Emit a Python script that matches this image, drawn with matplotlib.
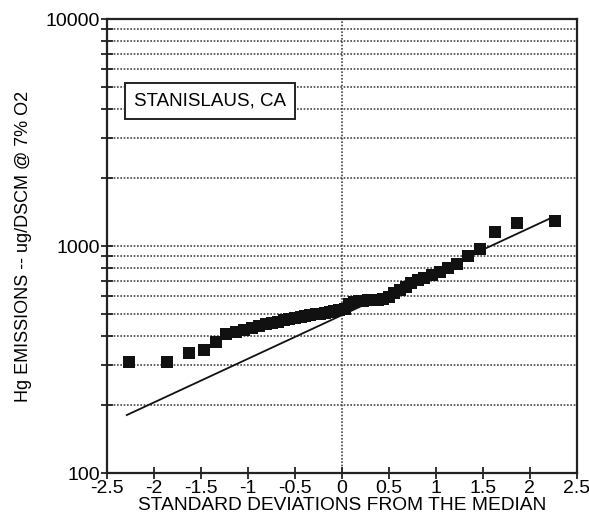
import matplotlib
matplotlib.use("Agg")
import matplotlib.pyplot as plt
from matplotlib.ticker import FixedLocator, NullFormatter

plt.rcParams['font.family'] = ['Liberation Sans', 'DejaVu Sans']

# Standard normal scores (x) and Hg emissions (y, ug/DSCM @ 7% O2)
std_dev = [-2.27, -1.86, -1.63, -1.47, -1.34, -1.23, -1.13, -1.04, -0.96, -0.88,
           -0.81, -0.74, -0.68, -0.62, -0.56, -0.50, -0.44, -0.39, -0.34, -0.28,
           -0.23, -0.18, -0.13, -0.08, -0.03, 0.03, 0.08, 0.13, 0.18, 0.23,
           0.28, 0.34, 0.39, 0.44, 0.50, 0.56, 0.62, 0.68, 0.74, 0.81,
           0.88, 0.96, 1.04, 1.13, 1.23, 1.34, 1.47, 1.63, 1.86, 2.27]
emissions = [308, 308, 338, 347, 378, 408, 420, 428, 436, 445,
             452, 458, 465, 470, 476, 482, 488, 492, 496, 500,
             504, 508, 512, 515, 520, 530, 555, 568, 572, 575,
             576, 578, 580, 585, 598, 618, 640, 660, 685, 705,
             722, 742, 765, 800, 835, 900, 975, 1150, 1260, 1290]

# Fitted lognormal line endpoints
fit_x = [-2.29, 2.25]
fit_y = [180, 1342]

x_ticks = [-2.5, -2, -1.5, -1, -0.5, 0, 0.5, 1, 1.5, 2, 2.5]
x_tick_labels = ['-2.5', '-2', '-1.5', '-1', '-0.5', '0', '0.5', '1', '1.5', '2', '2.5']
y_major = [100, 1000, 10000]
y_minor = [200, 300, 400, 500, 600, 700, 800, 900,
           2000, 3000, 4000, 5000, 6000, 7000, 8000, 9000]
site_label = "STANISLAUS, CA"

fig = plt.figure(figsize=(5.89, 5.21), dpi=100)
ax = fig.add_axes([0.1817, 0.0921, 0.7973, 0.8714])
ax.set_yscale('log')
ax.set_xlim(-2.5, 2.5)
ax.set_ylim(100, 10000)

grid_color = '#444444'
for v in y_minor + [1000]:
    ax.axhline(v, color=grid_color, lw=1.2, ls=(0, (1, 1)), zorder=1)
ax.axvline(0, color=grid_color, lw=1.2, ls=(0, (1, 1)), zorder=1)

ax.plot(fit_x, fit_y, color='#111111', lw=1.3, zorder=2)
ax.plot(std_dev, emissions, ls='none', marker='s', ms=8.5, color='#111111',
        markeredgewidth=0, zorder=3)

ax.xaxis.set_major_locator(FixedLocator(x_ticks))
ax.set_xticklabels(x_tick_labels)
ax.yaxis.set_major_locator(FixedLocator(y_major))
ax.yaxis.set_minor_locator(FixedLocator(y_minor))
ax.yaxis.set_minor_formatter(NullFormatter())
ax.set_yticklabels([str(v) for v in y_major])

ax.tick_params(axis='both', which='both', direction='inout', length=8, width=1.3,
               color='#222222', labelsize=14, pad=1)
ax.tick_params(axis='x', pad=1)
for s in ax.spines.values():
    s.set_linewidth(1.6)
    s.set_color('#222222')

ax.set_xlabel('STANDARD DEVIATIONS FROM THE MEDIAN', fontsize=13.8, labelpad=0)
ax.set_ylabel('Hg EMISSIONS -- ug/DSCM @ 7% O2', fontsize=13, labelpad=10)

ax.text(0.0575, 0.819, site_label, transform=ax.transAxes, fontsize=13.5,
        va='center', ha='left', zorder=5,
        bbox=dict(boxstyle='square,pad=0.5', fc='white', ec='#222222', lw=1.4))

fig.savefig('out.png', dpi=100)
